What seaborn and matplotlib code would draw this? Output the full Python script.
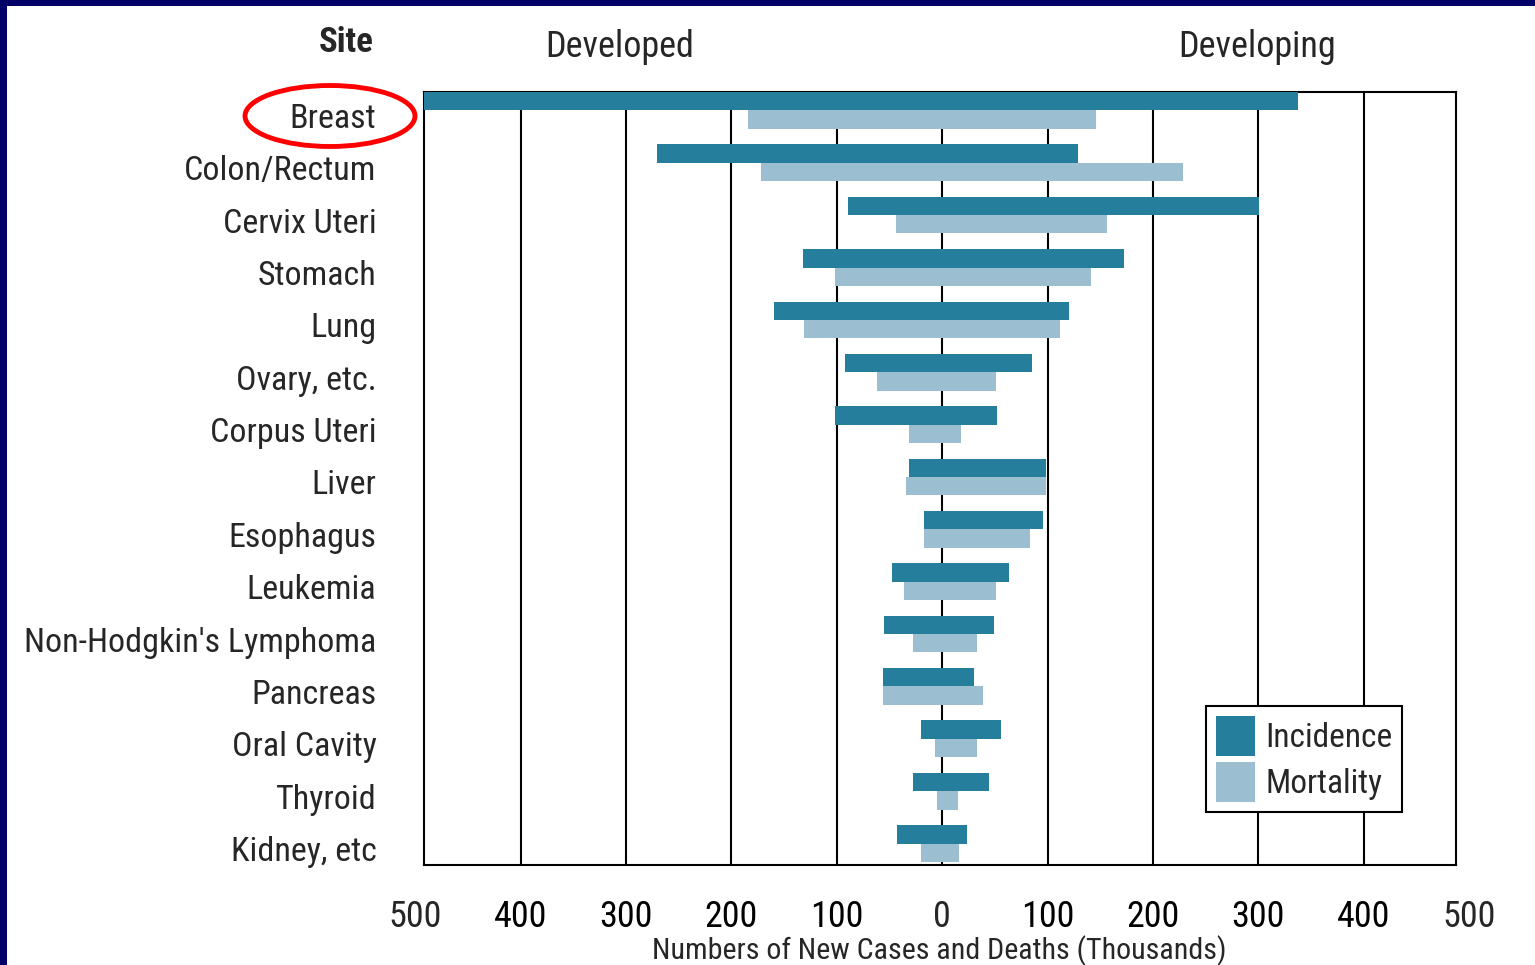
import matplotlib
matplotlib.use("Agg")
import matplotlib.pyplot as plt
import matplotlib.transforms as mtransforms
import seaborn as sns
import pandas as pd
from matplotlib.patches import Ellipse, Rectangle, Patch
from matplotlib import font_manager

# ---------------- data (thousands) ----------------
sites = ["Breast", "Colon/Rectum", "Cervix Uteri", "Stomach", "Lung",
         "Ovary, etc.", "Corpus Uteri", "Liver", "Esophagus", "Leukemia",
         "Non-Hodgkin's Lymphoma", "Pancreas", "Oral Cavity", "Thyroid",
         "Kidney, etc"]
incidence_developed = [500, 271, 89, 132, 160, 92, 102, 31, 17, 48, 55, 56, 20, 28, 43]
incidence_developing = [338, 129, 301, 173, 120, 85, 52, 99, 96, 63, 49, 30, 56, 44, 24]
mortality_developed = [184, 172, 44, 102, 131, 62, 31, 34, 17, 36, 28, 56, 7, 5, 20]
mortality_developing = [146, 229, 156, 141, 112, 51, 18, 99, 83, 51, 33, 39, 33, 15, 16]
measures = ["Incidence", "Mortality"]
major_ticks = [-400, -300, -200, -100, 100, 200, 300, 400]
outer_ticks = [-500, 500]

colors = {"Incidence": "#257E9B", "Mortality": "#9BBFD1"}

# ---------------- style ----------------
sns.set_style("white")
names = {f.name for f in font_manager.fontManager.ttflist}
base = "DejaVu Sans"
for cand in ["Liberation Sans Narrow", "Roboto Condensed", "Open Sans Condensed", "Liberation Sans"]:
    if cand in names:
        base = cand
        break
plt.rcParams["font.family"] = [base, "DejaVu Sans"]

fig = plt.figure(figsize=(15.35, 9.65), dpi=100)
fig.patch.set_facecolor("white")
ax = fig.add_axes([0.2760, 0.1036, 0.6724, 0.8010])

left_df = pd.DataFrame({
    "Site": sites * 2,
    "Measure": ["Incidence"] * len(sites) + ["Mortality"] * len(sites),
    "Value": [-v for v in incidence_developed] + [-v for v in mortality_developed],
})
right_df = pd.DataFrame({
    "Site": sites * 2,
    "Measure": ["Incidence"] * len(sites) + ["Mortality"] * len(sites),
    "Value": incidence_developing + mortality_developing,
})

for d in (left_df, right_df):
    sns.barplot(data=d, x="Value", y="Site", hue="Measure", hue_order=measures,
                order=sites, palette=colors, orient="h", width=0.7, dodge=True,
                errorbar=None, linewidth=0, saturation=1, legend=False,
                ax=ax, zorder=3)

ax.set_xlim(-492, 487.4)
ax.set_ylim(14.41, -0.351)

# grid / frame
ax.set_axisbelow(True)
ax.xaxis.grid(True, color="black", linewidth=1.5)
ax.yaxis.grid(False)
ax.axvline(0, color="black", linewidth=1.5, zorder=0.6)
for s in ax.spines.values():
    s.set_visible(True)
    s.set_color("black")
    s.set_linewidth(1.5)

ax.set_xticks(major_ticks)
ax.set_xticklabels([str(abs(v)) for v in major_ticks])
ax.set_xticks([0], minor=True)
ax.set_xticklabels(["0"], minor=True)
ax.tick_params(axis="x", which="major", direction="out", length=10.8, width=1.5,
               colors="black", labelsize=26, pad=14)
ax.tick_params(axis="x", which="minor", length=0, labelsize=26, pad=24.8)
for v in outer_ticks:
    ax.annotate(str(abs(v)), xy=(v, 0), xycoords=("data", "axes fraction"),
                xytext=(0, -24.8), textcoords="offset points", ha="center",
                va="top", fontsize=26, annotation_clip=False)

ax.tick_params(axis="y", length=0, labelsize=24.5, pad=34)
shift = mtransforms.ScaledTranslation(0, -5 / 100, fig.dpi_scale_trans)
for lab in ax.get_yticklabels():
    lab.set_transform(lab.get_transform() + shift)
ax.set_ylabel("")
ax.set_xlabel("Numbers of New Cases and Deaths (Thousands)", fontsize=21.6, labelpad=0)

handles = [Patch(facecolor=colors[m], edgecolor="none", label=m) for m in measures]
leg = ax.legend(handles=handles, loc="lower left", bbox_to_anchor=(0.758, 0.0686),
                frameon=True, fancybox=False, edgecolor="black", framealpha=1,
                fontsize=24, handlelength=1.17, handleheight=1.45, handletextpad=0.3,
                borderpad=0.3, labelspacing=0.2, borderaxespad=0)
leg.get_frame().set_linewidth(1.5)

# header texts
fig.text(374 / 1535, 1 - 43 / 965, "Site", ha="right", va="center",
         fontsize=25, fontweight="bold")
fig.text(620 / 1535, 1 - 47 / 965, "Developed", ha="center", va="center", fontsize=26)
fig.text(1257 / 1535, 1 - 47 / 965, "Developing", ha="center", va="center", fontsize=26)

# slide frame and highlight
fig.add_artist(Rectangle((0, 1 - 6 / 965), 1, 6 / 965, transform=fig.transFigure,
                         facecolor="#000066", edgecolor="none"))
fig.add_artist(Rectangle((0, 0), 7 / 1535, 1, transform=fig.transFigure,
                         facecolor="#000066", edgecolor="none"))
fig.add_artist(Ellipse((330 / 1535, 1 - 116 / 965), 170 / 1535, 61 / 965,
                       transform=fig.transFigure, fill=False, edgecolor="#FF0000",
                       linewidth=3.5))

fig.savefig("out.png", dpi=100)
